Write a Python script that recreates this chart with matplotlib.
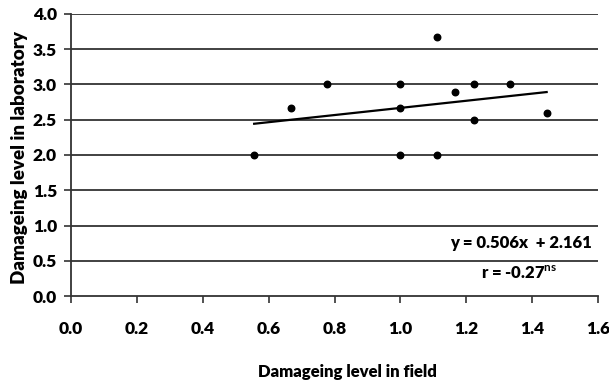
import numpy as np
import matplotlib.pyplot as plt

# field vs laboratory damage levels
field = [0.556, 0.667, 0.778, 1.0, 1.0, 1.0, 1.111, 1.111, 1.167, 1.222, 1.222, 1.333, 1.444]
lab = [2.0, 2.67, 3.0, 3.0, 2.67, 2.0, 3.67, 2.0, 2.89, 3.0, 2.5, 3.0, 2.6]

slope = 0.506
intercept = 2.161

x_ticks = [0.0, 0.2, 0.4, 0.6, 0.8, 1.0, 1.2, 1.4, 1.6]
y_ticks = [0.0, 0.5, 1.0, 1.5, 2.0, 2.5, 3.0, 3.5, 4.0]

plt.rcParams['font.family'] = ['Lato', 'DejaVu Sans']
plt.rcParams['font.weight'] = 'bold'
plt.rcParams['mathtext.fontset'] = 'custom'
plt.rcParams['mathtext.bf'] = 'Lato:bold'

fig = plt.figure(figsize=(6.09, 3.85), dpi=100)
ax = fig.add_axes([0.1166, 0.231, 0.8654, 0.733])

# gridlines
for yv in y_ticks[1:]:
    ax.axhline(yv, color='#333333', lw=1.3, zorder=1)

ax.scatter(field, lab, s=22, color='black', zorder=3)

xs = np.array([min(field), max(field)])
ax.plot(xs, slope * xs + intercept, color='black', lw=1.6, zorder=2)

ax.set_xlim(0, 1.6)
ax.set_ylim(0, 4.0)
ax.set_xticks(x_ticks)
ax.set_yticks(y_ticks)
ax.set_xticklabels([f'{v:.1f}' for v in x_ticks], fontsize=12.5, fontweight='heavy')
ax.set_yticklabels([f'{v:.1f}' for v in y_ticks], fontsize=12.5, fontweight='heavy')
ax.tick_params(axis='both', direction='out', length=5, width=1.2, color='#333333')
ax.tick_params(axis='x', pad=13)
ax.tick_params(axis='y', pad=5)

for side in ['top', 'right']:
    ax.spines[side].set_visible(False)
for side in ['left', 'bottom']:
    ax.spines[side].set_color('#333333')
    ax.spines[side].set_linewidth(1.3)

fig.text(347 / 609, 1 - 372 / 385, 'Damageing level in field', ha='center', va='center',
         fontsize=12, fontweight='heavy')
fig.text(20 / 609, 1 - 157 / 385, 'Damageing level in laboratory', ha='center', va='center',
         rotation=90, fontsize=13.5, fontweight='heavy')

ax.text(1.58, 0.75, f'y = {slope}x  + {intercept}', ha='right', va='center',
        fontsize=12, fontweight='heavy')
ax.text(1.36, 0.32, r'r = -0.27$^{\mathbf{ns}}$', ha='center', va='center',
        fontsize=12, fontweight='heavy')

fig.savefig('out.png', dpi=100)
